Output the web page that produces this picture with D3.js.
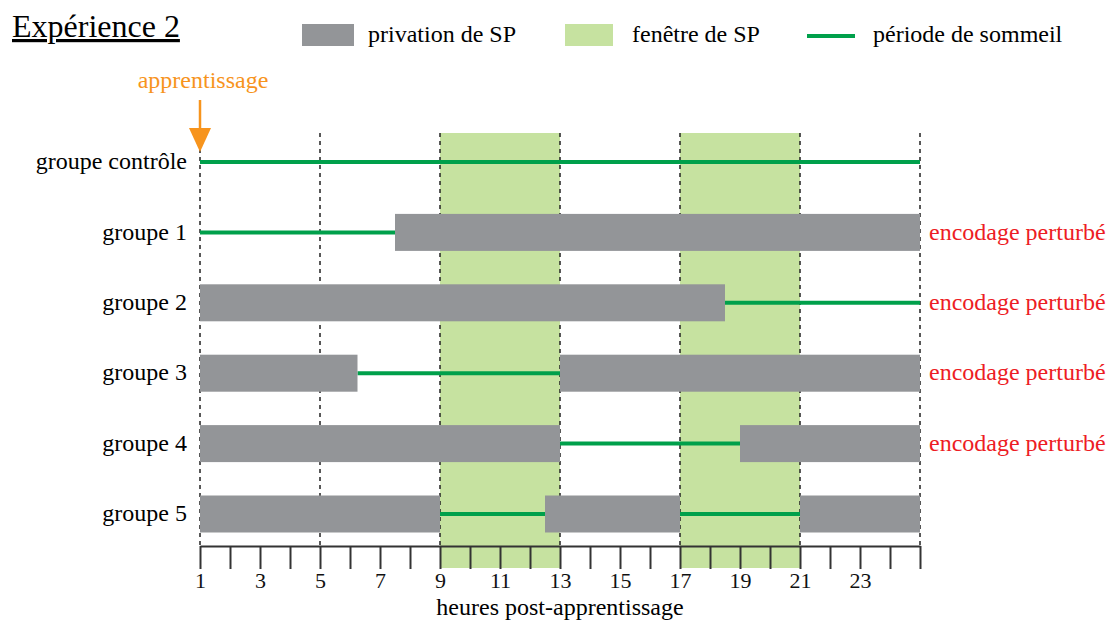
<!DOCTYPE html>
<meta charset="utf-8">
<style>
  body { margin: 0; background: #fff; }
  .axis path, .axis line { stroke: #333; stroke-width: 2px; }
</style>
<body>
<svg width="1109" height="624"></svg>
<script src="https://d3js.org/d3.v7.min.js"></script>
<script>

var groups = ["groupe contrôle", "groupe 1", "groupe 2", "groupe 3", "groupe 4", "groupe 5"];
// deprivation periods (hours) per group
var deprivation = [
  [],
  [[7.5, 25]],
  [[1, 18.5]],
  [[1, 6.25], [13, 25]],
  [[1, 13], [19, 25]],
  [[1, 9], [12.5, 17], [21, 25]]
];
// sleep periods per group
var sleep = [
  [[1, 25]],
  [[1, 7.5]],
  [[18.5, 25]],
  [[6.25, 13]],
  [[13, 19]],
  [[9, 12.5], [17, 21]]
];
var perturbed = [false, true, true, true, true, false];
var windows = [[9, 13], [17, 21]];
var guideHours = [1, 5, 9, 13, 17, 21, 25];
var tickHours = d3.range(1, 26);
var tickLabels = [1, 3, 5, 7, 9, 11, 13, 15, 17, 19, 21, 23];

var FONT = "'Liberation Serif'";
var svg = d3.select("svg").style("font-family", FONT);

var x = d3.scaleLinear().domain([1, 25]).range([200, 920]);
var y = d3.scalePoint().domain(groups).range([162, 514]);
var barH = 37;
var plotTop = 133, axisY = 546;

var gray = "#939598", light = "#c6e2a0", green = "#00a04b", orange = "#f7941d";

// SP windows
svg.selectAll(".win").data(windows).enter().append("rect")
    .attr("x", function(d) { return x(d[0]); })
    .attr("width", function(d) { return x(d[1]) - x(d[0]); })
    .attr("y", plotTop)
    .attr("height", axisY + 22 - plotTop)
    .attr("fill", light);

// dashed guides
svg.selectAll(".guide").data(guideHours).enter().append("line")
    .attr("x1", function(d) { return x(d); })
    .attr("x2", function(d) { return x(d); })
    .attr("y1", plotTop)
    .attr("y2", axisY)
    .attr("stroke", "#222")
    .attr("stroke-width", 1.5)
    .attr("stroke-dasharray", "4,4");

// rows
groups.forEach(function(g, i) {
  var cy = y(g);
  svg.selectAll(null).data(sleep[i]).enter().append("line")
      .attr("x1", function(d) { return x(d[0]); })
      .attr("x2", function(d) { return x(d[1]); })
      .attr("y1", cy).attr("y2", cy)
      .attr("stroke", green)
      .attr("stroke-width", 4);
  svg.selectAll(null).data(deprivation[i]).enter().append("rect")
      .attr("x", function(d) { return x(d[0]); })
      .attr("width", function(d) { return x(d[1]) - x(d[0]); })
      .attr("y", cy - barH / 2)
      .attr("height", barH)
      .attr("fill", gray);
  svg.append("text")
      .attr("x", 187).attr("y", cy).attr("dy", "0.3em")
      .attr("text-anchor", "end")
      .style("font-family", FONT).style("font-size", "24px")
      .text(g);
  if (perturbed[i]) {
    svg.append("text")
        .attr("x", 929).attr("y", cy).attr("dy", "0.3em")
        .style("font-family", FONT).style("font-size", "24px")
        .attr("fill", "#ed1c24")
        .text("encodage perturbé");
  }
});

// axis
var axis = d3.axisBottom(x)
    .tickValues(tickHours)
    .tickSize(23)
    .tickSizeOuter(0)
    .tickPadding(3)
    .tickFormat(function(d) { return tickLabels.indexOf(d) >= 0 ? d : ""; });
var ax = svg.append("g").attr("class", "axis")
    .attr("transform", "translate(0," + axisY + ")")
    .call(axis);
ax.attr("font-family", null).attr("font-size", null);
ax.selectAll("text")
    .attr("fill", "#111")
    .style("font-family", FONT)
    .style("font-size", "22px");

svg.append("text")
    .attr("x", x(13)).attr("y", 615)
    .attr("text-anchor", "middle")
    .style("font-family", FONT).style("font-size", "24px")
    .text("heures post-apprentissage");

// apprentissage arrow
svg.append("text")
    .attr("x", x(1) + 3).attr("y", 88)
    .attr("text-anchor", "middle")
    .style("font-family", FONT).style("font-size", "24px")
    .attr("fill", orange)
    .text("apprentissage");
svg.append("line")
    .attr("x1", x(1)).attr("x2", x(1))
    .attr("y1", 100).attr("y2", 136)
    .attr("stroke", orange).attr("stroke-width", 2.5);
svg.append("path")
    .attr("d", "M" + (x(1) - 11) + ",128 L" + (x(1) + 11) + ",128 L" + x(1) + ",152 Z")
    .attr("fill", orange);

// title
svg.append("text")
    .attr("x", 12).attr("y", 37)
    .style("font-family", FONT).style("font-size", "32px")
    .style("text-decoration", "underline")
    .text("Expérience 2");

// legend
var legend = svg.append("g").style("font-family", FONT).style("font-size", "24px");
legend.append("rect").attr("x", 302).attr("y", 24).attr("width", 52).attr("height", 22).attr("fill", gray);
legend.append("text").attr("x", 368).attr("y", 35).attr("dy", "0.3em").text("privation de SP");
legend.append("rect").attr("x", 565).attr("y", 24).attr("width", 48).attr("height", 22).attr("fill", light);
legend.append("text").attr("x", 632).attr("y", 35).attr("dy", "0.3em").text("fenêtre de SP");
legend.append("line").attr("x1", 807).attr("x2", 855).attr("y1", 36).attr("y2", 36).attr("stroke", green).attr("stroke-width", 4);
legend.append("text").attr("x", 873).attr("y", 35).attr("dy", "0.3em").text("période de sommeil");

</script>
</body>
